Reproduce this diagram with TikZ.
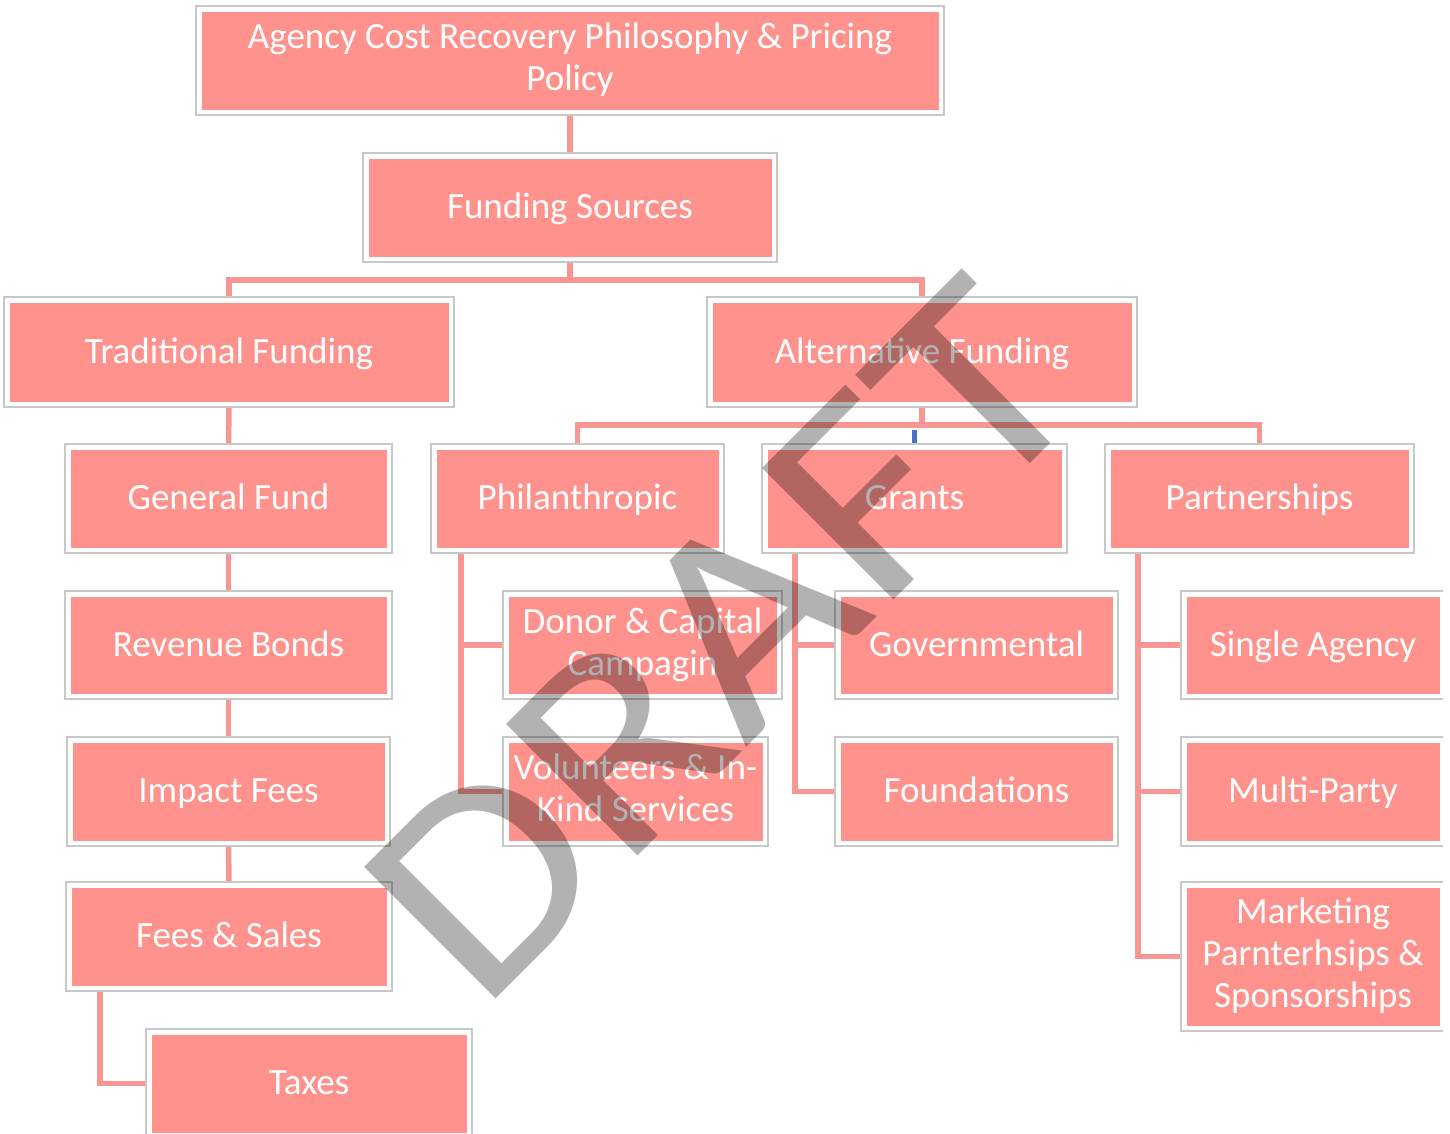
\documentclass[tikz,border=0pt]{standalone}
\usepackage{fontspec}
\setmainfont{Carlito}
\usetikzlibrary{backgrounds}
\definecolor{boxpink}{RGB}{255,146,140}
\definecolor{boxgray}{RGB}{200,200,200}
\definecolor{connpink}{RGB}{247,150,146}
\definecolor{selblue}{RGB}{68,114,196}
\definecolor{wmgray}{RGB}{178,178,178}
\newcommand\bxstrut{\rule[-7pt]{0pt}{36.4pt}}
\tikzset{
  box/.style={draw=boxgray, fill=white, line width=1.5pt, inner sep=0pt, outer sep=0pt,
    text=white, align=center, font=\fontsize{37}{42}\selectfont,
    execute at begin node=\bxstrut, execute at end node=\bxstrut,
    path picture={\fill[boxpink] ([xshift=5.5pt,yshift=5.5pt]path picture bounding box.south west) rectangle ([xshift=-5.5pt,yshift=-5.5pt]path picture bounding box.north east);}},
  conn/.style={draw=connpink, line width=5.5pt},
  selconn/.style={draw=selblue, line width=5.5pt},
  wmark/.style={text=wmgray, inner sep=0pt, outer sep=0pt, font=\fontsize{290}{290}\selectfont}
}
\begin{document}
\begin{tikzpicture}[x=1pt,y=-1pt]
\useasboundingbox (0,0) rectangle (1450,1133);
\begin{scope}
\clip (0,0) rectangle (1443,1133);
\path
  (570,60.5)   node[box, minimum width=748, minimum height=109] (top) {Agency Cost Recovery Philosophy \& Pricing\\Policy}
  (570,207.5)  node[box, minimum width=414, minimum height=109] (fs) {Funding Sources}
  (229,352)    node[box, minimum width=450, minimum height=110] (trad) {Traditional Funding}
  (922,352)    node[box, minimum width=430, minimum height=110] (alt) {Alternative Funding}
  (228.5,498.5) node[box, minimum width=327, minimum height=109] (gen) {General Fund}
  (577.5,498.5) node[box, minimum width=293, minimum height=109] (phil) {Philanthropic}
  (914.5,498.5) node[box, minimum width=305, minimum height=109] (grants) {Grants}
  (1259.5,498.5) node[box, minimum width=309, minimum height=109] (part) {Partnerships}
  (228.5,645)  node[box, minimum width=327, minimum height=108] (rev) {Revenue Bonds}
  (642.5,645)  node[box, minimum width=279, minimum height=108] (donor) {Donor \& Capital\\Campagin}
  (976.5,645)  node[box, minimum width=283, minimum height=108] (gov) {Governmental}
  (1313,645)   node[box, minimum width=264, minimum height=108] (single) {Single Agency}
  (228.5,791.5) node[box, minimum width=323, minimum height=109] (impact) {Impact Fees}
  (635.5,791.5) node[box, minimum width=265, minimum height=109] (vol) {Volunteers \& In-\\Kind Services}
  (976.5,791.5) node[box, minimum width=283, minimum height=109] (found) {Foundations}
  (1313,791.5) node[box, minimum width=264, minimum height=109] (multi) {Multi-Party}
  (229,936.5)  node[box, minimum width=326, minimum height=109] (fees) {Fees \& Sales}
  (1313,956.5) node[box, minimum width=264, minimum height=149] (mkt) {Marketing\\Parnterhsips \&\\Sponsorships}
  (309,1083.5) node[box, minimum width=326, minimum height=109] (taxes) {Taxes};
\end{scope}
\coordinate (jfs) at (570,280);
\coordinate (jalt) at (922,425);
\begin{pgfonlayer}{background}
  \draw[conn] (top.south) -- (fs.north);
  \draw[conn] (fs.south) -- (jfs);
  \draw[conn] (trad.north) -- (trad.north |- jfs) -- (alt.north |- jfs) -- (alt.north);
  \draw[conn] (alt.south) -- (jalt);
  \draw[conn] (phil.north) -- (phil.north |- jalt) -- (part.north |- jalt) -- (part.north);
  \draw[selconn] ([yshift=-5pt]grants.north |- jalt) -- (grants.north);
  \draw[conn] (trad.south) -- (gen.north);
  \draw[conn] (gen.south) -- (rev.north);
  \draw[conn] (rev.south) -- (impact.north);
  \draw[conn] (impact.south) -- (fees.north);
  \draw[conn] ([xshift=34pt]fees.south west) |- (taxes.west);
  \draw[conn] ([xshift=30pt]phil.south west) |- (donor.west);
  \draw[conn] ([xshift=30pt]phil.south west) |- (vol.west);
  \draw[conn] ([xshift=33pt]grants.south west) |- (gov.west);
  \draw[conn] ([xshift=33pt]grants.south west) |- (found.west);
  \draw[conn] ([xshift=33pt]part.south west) |- (single.west);
  \draw[conn] ([xshift=33pt]part.south west) |- (multi.west);
  \draw[conn] ([xshift=33pt]part.south west) |- (mkt.west);
\end{pgfonlayer}
\begin{scope}[blend mode=multiply]
  \node[wmark, rotate=45, anchor=base west] (wm) at (480,1014) {\scalebox{1.12}[1]{DRAFT}};
\end{scope}
\end{tikzpicture}
\end{document}
